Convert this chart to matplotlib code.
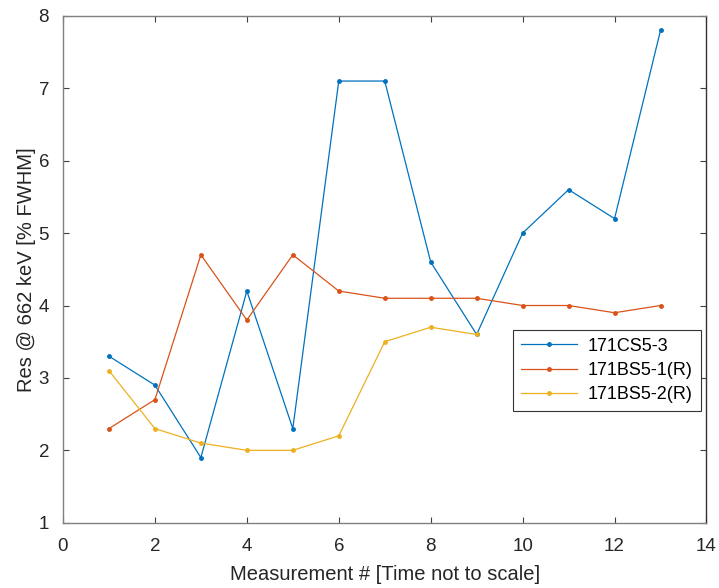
import matplotlib
matplotlib.use("Agg")
import matplotlib.pyplot as plt

plt.rcParams['font.family'] = ['Liberation Sans', 'DejaVu Sans']

# measurement numbers
meas = [1, 2, 3, 4, 5, 6, 7, 8, 9, 10, 11, 12, 13]
meas_short = [1, 2, 3, 4, 5, 6, 7, 8, 9]

# resolution values (% FWHM)
res_cs5_3 = [3.3, 2.9, 1.9, 4.2, 2.3, 7.1, 7.1, 4.6, 3.6, 5.0, 5.6, 5.2, 7.8]
res_bs5_1 = [2.3, 2.7, 4.7, 3.8, 4.7, 4.2, 4.1, 4.1, 4.1, 4.0, 4.0, 3.9, 4.0]
res_bs5_2 = [3.1, 2.3, 2.1, 2.0, 2.0, 2.2, 3.5, 3.7, 3.6]

labels = ['171CS5-3', '171BS5-1(R)', '171BS5-2(R)']
colors = ['#0072BD', '#D95319', '#EDB120']

fig = plt.figure(figsize=(7.19, 5.88), dpi=100)
ax = fig.add_axes([0.0876, 0.111, 0.895, 0.862])

ax.plot(meas, res_cs5_3, marker='.', markersize=5, linewidth=0.9, color=colors[0], label=labels[0])
ax.plot(meas, res_bs5_1, marker='.', markersize=5, linewidth=0.9, color=colors[1], label=labels[1])
ax.plot(meas_short, res_bs5_2, marker='.', markersize=5, linewidth=0.9, color=colors[2], label=labels[2])

ax.set_xlim(0, 14)
ax.set_ylim(1, 8)
ax.set_xticks(range(0, 15, 2))
ax.set_yticks(range(1, 9))
ax.tick_params(axis='x', pad=11)
ax.tick_params(axis='y', pad=10)
ax.tick_params(direction='in', top=True, right=True, length=4, width=0.8,
               labelsize=13.5, colors='#404040', labelcolor='#262626')
for name, s in ax.spines.items():
    s.set_color('#808080' if name != 'right' else '#333333')
    s.set_linewidth(1.0)

ax.set_xlabel('Measurement # [Time not to scale]', fontsize=14.5, color='#262626', labelpad=7)
ax.set_ylabel('Res @ 662 keV [% FWHM]', fontsize=14.5, color='#262626', labelpad=2)

leg = ax.legend(loc='upper right', bbox_to_anchor=(0.991, 0.381), borderaxespad=0,
                fontsize=13, fancybox=False, framealpha=1, edgecolor='#333333',
                handlelength=3.1, borderpad=0.45, labelspacing=0.4, handletextpad=0.6)
leg.get_frame().set_linewidth(0.8)

fig.savefig('out.png', dpi=100)
